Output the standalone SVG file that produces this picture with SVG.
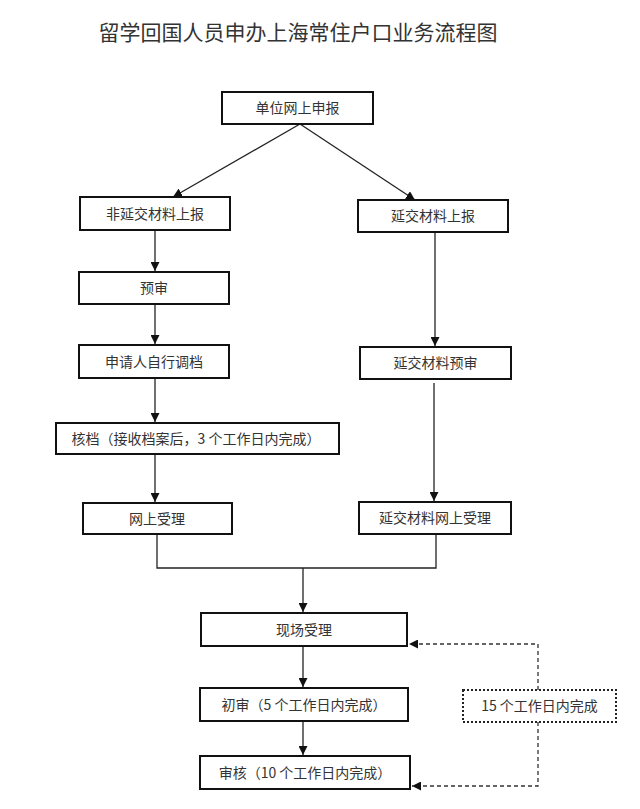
<svg xmlns="http://www.w3.org/2000/svg" width="640" height="809" viewBox="0 0 640 809">
<style>
.box{fill:#fff;stroke:#111;stroke-width:2}
.dot{fill:#fff;stroke:#222;stroke-width:2;stroke-dasharray:2 2}
.t{font-family:"Noto Sans CJK SC","Liberation Sans",sans-serif;font-size:14px;fill:#333;text-anchor:middle}
.title{font-family:"Noto Sans CJK SC","Liberation Sans",sans-serif;font-size:21px;fill:#333;text-anchor:middle}
.ln{fill:none;stroke:#222;stroke-width:1.3}
.dash{fill:none;stroke:#333;stroke-width:1.3;stroke-dasharray:4 3}
</style>
<defs>
<marker id="arr" viewBox="0 0 10 10" refX="10" refY="5" markerUnits="userSpaceOnUse" markerWidth="9" markerHeight="9" orient="auto">
<path d="M0,0 L10,5 L0,10 z" fill="#111"/>
</marker>
</defs>
<rect width="640" height="809" fill="#fff"/>
<text class="title" x="298" y="40">留学回国人员申办上海常住户口业务流程图</text>

<g id="connectors">
<line class="ln" x1="300" y1="124" x2="173" y2="197" marker-end="url(#arr)"/>
<line class="ln" x1="300" y1="124" x2="415" y2="200" marker-end="url(#arr)"/>
<line class="ln" x1="155" y1="230" x2="155" y2="271" marker-end="url(#arr)"/>
<line class="ln" x1="155" y1="304" x2="155" y2="344" marker-end="url(#arr)"/>
<line class="ln" x1="155" y1="378" x2="155" y2="422" marker-end="url(#arr)"/>
<line class="ln" x1="155" y1="454" x2="155" y2="502" marker-end="url(#arr)"/>
<line class="ln" x1="435" y1="232" x2="435" y2="346" marker-end="url(#arr)"/>
<line class="ln" x1="434" y1="383" x2="434" y2="501" marker-end="url(#arr)"/>
<polyline class="ln" points="157,534 157,568 436,568 436,534"/>
<line class="ln" x1="303" y1="568" x2="303" y2="612" marker-end="url(#arr)"/>
<line class="ln" x1="303" y1="646" x2="303" y2="687" marker-end="url(#arr)"/>
<line class="ln" x1="303" y1="721" x2="303" y2="755" marker-end="url(#arr)"/>
<polyline class="dash" points="538,690 538,644 409,644" marker-end="url(#arr)"/>
<polyline class="dash" points="538,722 538,786 412,786" marker-end="url(#arr)"/>
</g>

<g id="n1"><rect class="box" x="222" y="92" width="151" height="32"/><text class="t" x="297.5" y="113">单位网上申报</text></g>
<g id="n2"><rect class="box" x="80" y="197" width="150" height="33"/><text class="t" x="155" y="218.5">非延交材料上报</text></g>
<g id="n3"><rect class="box" x="358" y="200" width="150" height="32"/><text class="t" x="433" y="221">延交材料上报</text></g>
<g id="n4"><rect class="box" x="79" y="272" width="150" height="32"/><text class="t" x="154" y="293">预审</text></g>
<g id="n5"><rect class="box" x="79" y="345" width="150" height="33"/><text class="t" x="154" y="366.5">申请人自行调档</text></g>
<g id="n6"><rect class="box" x="360" y="347" width="151" height="32"/><text class="t" x="435.5" y="368">延交材料预审</text></g>
<g id="n7"><rect class="box" x="56" y="423" width="283" height="31"/><text class="t" x="196" y="443.5">核档（接收档案后，3 个工作日内完成）</text></g>
<g id="n8"><rect class="box" x="83" y="503" width="149" height="31"/><text class="t" x="157" y="523.5">网上受理</text></g>
<g id="n9"><rect class="box" x="359" y="502" width="152" height="32"/><text class="t" x="435" y="523">延交材料网上受理</text></g>
<g id="n10"><rect class="box" x="201" y="613" width="206" height="33"/><text class="t" x="304" y="634.5">现场受理</text></g>
<g id="n11"><rect class="box" x="200" y="688" width="208" height="33"/><text class="t" x="304" y="709.5">初审（5 个工作日内完成）</text></g>
<g id="n12"><rect class="box" x="200" y="756" width="210" height="33"/><text class="t" x="305" y="777.5">审核（10 个工作日内完成）</text></g>
<g id="n13"><rect class="dot" x="463" y="690" width="153" height="32"/><text class="t" x="539.5" y="711">15 个工作日内完成</text></g>
</svg>
